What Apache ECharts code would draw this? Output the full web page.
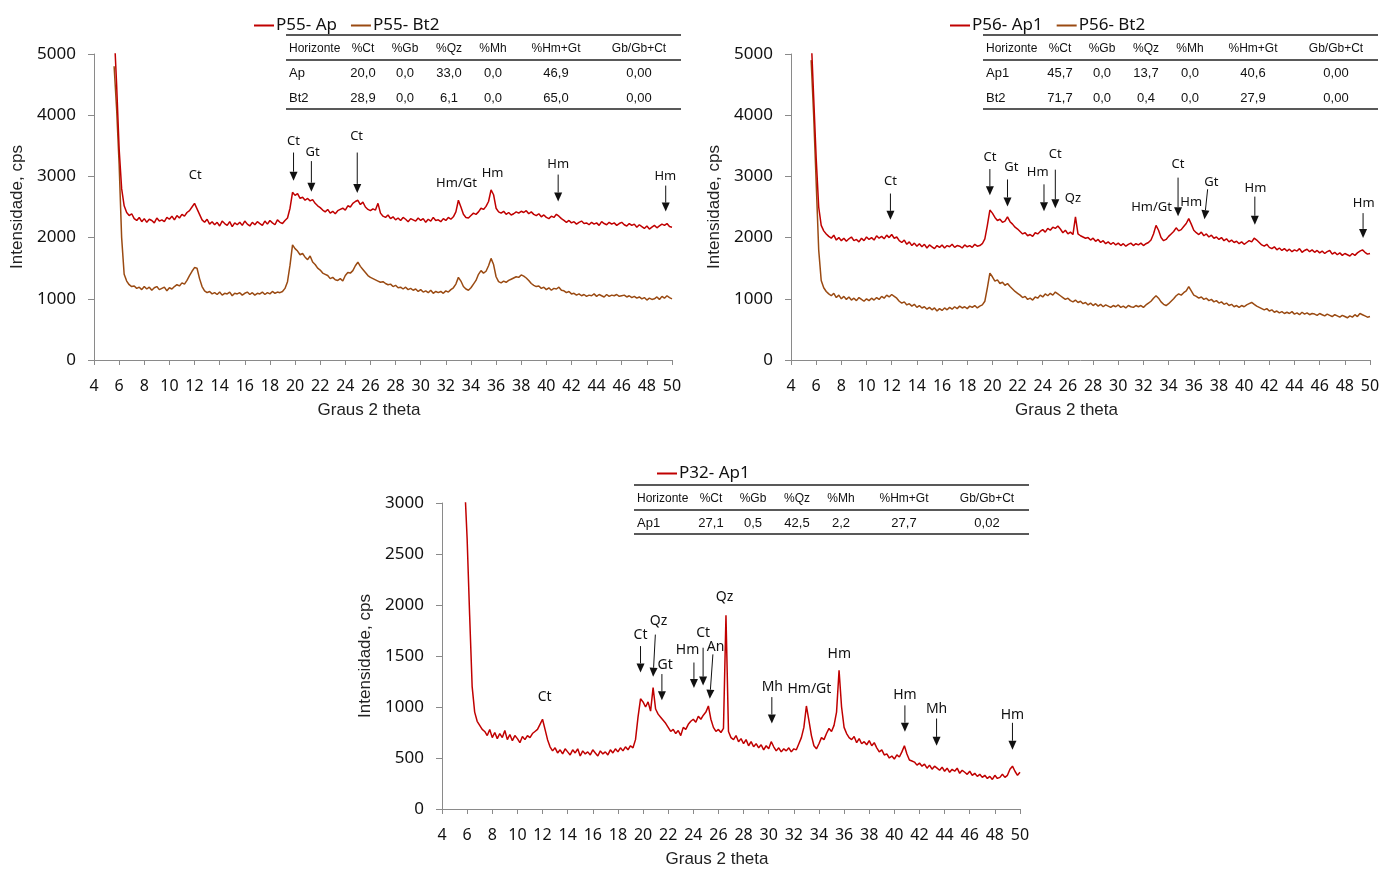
<!DOCTYPE html>
<html>
<head>
<meta charset="utf-8">
<script src="https://cdn.jsdelivr.net/npm/echarts@6/dist/echarts.min.js"></script>
<style>
  html, body { margin: 0; padding: 0; background: #fff; }
  #main { width: 1392px; height: 869px; }
</style>
</head>
<body>
<div id="main"></div>
<script>
// 2 theta grid: 5.6 .. 50.0, step 0.2
const theta = []
for (let i = 0; i <= 222; i++) theta.push(+(5.6 + i * 0.2).toFixed(1))

// P55 - Ap (red)
const p55Ap = [
  5400, 4500, 3450, 2800, 2520, 2410, 2360, 2390, 2310, 2280,  // 5.6
  2330, 2260, 2310, 2250, 2300, 2280, 2240, 2320, 2270, 2290,  // 7.6
  2260, 2330, 2300, 2350, 2290, 2360, 2320, 2380, 2350, 2410,  // 9.6
  2440, 2500, 2560, 2470, 2380, 2290, 2250, 2300, 2220, 2260,  // 11.6
  2210, 2250, 2190, 2270, 2230, 2200, 2260, 2180, 2240, 2210,  // 13.6
  2250, 2200, 2270, 2220, 2190, 2250, 2210, 2260, 2230, 2200,  // 15.6
  2270, 2220, 2280, 2240, 2210, 2290, 2250, 2230, 2280, 2320,  // 17.6
  2480, 2740, 2690, 2720, 2640, 2660, 2610, 2640, 2600, 2620,  // 19.6
  2560, 2520, 2490, 2450, 2420, 2460, 2400, 2430, 2390, 2440,  // 21.6
  2460, 2480, 2450, 2520, 2500, 2560, 2590, 2610, 2540, 2580,  // 23.6
  2500, 2460, 2440, 2470, 2450, 2560, 2400, 2350, 2330, 2370,  // 25.6
  2310, 2340, 2290, 2320, 2280, 2330, 2300, 2260, 2310, 2290,  // 27.6
  2270, 2320, 2280, 2310, 2250, 2300, 2270, 2330, 2280, 2290,  // 29.6
  2260, 2310, 2280, 2330, 2300, 2340, 2420, 2610, 2500, 2380,  // 31.6
  2330, 2320, 2360, 2400, 2380, 2420, 2480, 2460, 2510, 2590,  // 33.6
  2780, 2700, 2480, 2420, 2400, 2430, 2380, 2410, 2370, 2390,  // 35.6
  2420, 2400, 2430, 2410, 2440, 2390, 2420, 2380, 2360, 2390,  // 37.6
  2340, 2370, 2330, 2310, 2350, 2330, 2380, 2350, 2310, 2280,  // 39.6
  2250, 2280, 2240, 2260, 2220, 2250, 2270, 2230, 2240, 2210,  // 41.6
  2250, 2220, 2240, 2200, 2260, 2230, 2210, 2250, 2220, 2240,  // 43.6
  2200, 2230, 2250, 2210, 2190, 2230, 2200, 2220, 2170, 2210,  // 45.6
  2180, 2150, 2190, 2140, 2170, 2200, 2160, 2190, 2220, 2200,  // 47.6
  2230, 2180, 2170                                             // 49.6
]

// P55 - Bt2 (brown)
const p55Bt2 = [
  4800, 4100, 3200, 2000, 1400, 1290, 1230, 1200, 1210, 1170,
  1190, 1150, 1200, 1160, 1190, 1140, 1180, 1200, 1150, 1170,
  1190, 1130, 1180, 1160, 1200, 1230, 1210, 1260, 1240, 1300,
  1380, 1450, 1510, 1500, 1330, 1200, 1130, 1100, 1120, 1080,
  1100, 1070, 1110, 1060, 1090, 1080, 1110, 1050, 1090, 1080,
  1100, 1060, 1090, 1110, 1070, 1100, 1060, 1090, 1080, 1110,
  1070, 1100, 1080, 1120, 1090, 1110, 1100, 1120, 1170, 1280,
  1550, 1880, 1820, 1780, 1720, 1740, 1680, 1640, 1700, 1600,
  1560, 1500, 1470, 1420, 1400, 1380, 1330, 1350, 1310, 1300,
  1330, 1290, 1380, 1430, 1420, 1460, 1540, 1600, 1530, 1480,
  1430, 1380, 1350, 1330, 1310, 1290, 1270, 1280, 1250, 1230,
  1240, 1200, 1220, 1180, 1190, 1160, 1190, 1150, 1170, 1140,
  1160, 1120, 1150, 1110, 1130, 1100, 1140, 1090, 1120, 1100,
  1120, 1090, 1130, 1110, 1150, 1180, 1240, 1350, 1290, 1200,
  1160, 1140, 1180, 1240, 1300, 1400, 1460, 1420, 1450, 1540,
  1660, 1560, 1360, 1280, 1260, 1290, 1270, 1300, 1320, 1340,
  1360, 1350, 1390, 1370, 1340, 1300, 1250, 1220, 1200, 1210,
  1170, 1190, 1150, 1180, 1140, 1170, 1160, 1190, 1140, 1130,
  1100, 1120, 1080, 1090, 1060, 1080, 1050, 1070, 1040, 1060,
  1050, 1080, 1040, 1070, 1050, 1030, 1070, 1040, 1060, 1050,
  1070, 1040, 1050, 1060, 1030, 1050, 1020, 1040, 1010, 1030,
  1000, 1020, 980, 1010, 990, 1000, 1030, 990, 1040, 1010,
  1050, 1020, 1000
]

// P56 - Ap1 (red)
const p56Ap1 = [
  5300, 4300, 3300, 2500, 2200, 2110, 2060, 2020, 1990, 2040,
  1960, 2000, 1950, 1990, 1940, 1980, 2010, 1950, 1970, 1930,
  1990, 1950, 2010, 1970, 2000, 1960, 2030, 1990, 2020, 1980,
  2040, 2000, 2050, 1990, 2010, 1950, 1920, 1960, 1890, 1930,
  1870, 1910, 1860, 1900, 1850, 1890, 1830, 1880, 1850, 1820,
  1870, 1840, 1880, 1830, 1870, 1850, 1890, 1840, 1870, 1860,
  1830, 1880, 1850, 1870, 1840, 1890, 1860, 1870, 1900, 1980,
  2200, 2450, 2400, 2330, 2280, 2300, 2250, 2270, 2340, 2260,
  2220, 2170, 2140, 2100, 2060, 2080, 2030, 2050, 2020, 2080,
  2060, 2100, 2130, 2090, 2150, 2120, 2170, 2150, 2190, 2140,
  2080, 2120, 2060, 2090, 2050, 2340, 2060, 2030, 2010, 1990,
  2000, 1960, 1990, 1940, 1970, 1920, 1950, 1900, 1930, 1890,
  1920, 1880, 1910, 1870, 1900, 1860, 1890, 1910, 1870, 1900,
  1880, 1910, 1870, 1900, 1920, 1960, 2060, 2200, 2120, 2000,
  1950, 1970, 2020, 2060, 2100, 2160, 2110, 2130, 2180, 2230,
  2310, 2220, 2120, 2080, 2050, 2090, 2030, 2060, 2010, 2040,
  1990, 2010, 1970, 2000, 1950, 1980, 1930, 1960, 1920, 1940,
  1900, 1930, 1890, 1920, 1950, 1930, 1990, 1960, 1920, 1880,
  1860, 1890, 1840, 1820, 1850, 1800, 1830, 1790, 1820, 1780,
  1810, 1770, 1800, 1780, 1820, 1760, 1790, 1810, 1770, 1800,
  1760, 1790, 1750, 1780, 1740, 1770, 1790, 1730, 1760, 1720,
  1750, 1710, 1740, 1720, 1700, 1740, 1710, 1750, 1780, 1800,
  1760, 1730, 1740
]

// P56 - Bt2 (brown)
const p56Bt2 = [
  4900, 4000, 2900, 1800, 1300, 1180, 1120, 1080, 1050, 1090,
  1020, 1060, 1000, 1040, 990, 1030, 980, 1010, 970, 1020,
  990, 960, 1000, 970, 1010, 980, 1020, 990, 1040, 1010,
  1060, 1030, 1070, 1040, 1010, 960, 930, 950, 900, 920,
  880, 910, 860, 890, 850, 870, 830, 860, 820, 850,
  800, 840, 810, 850, 820, 860, 830, 870, 840, 880,
  850, 870, 840, 880, 860, 890, 850, 880, 900, 960,
  1180, 1420, 1360, 1290, 1310, 1250, 1270, 1220, 1250, 1200,
  1160, 1120, 1090, 1060, 1020, 1040, 990, 1010, 980, 1030,
  1010, 1060, 1030, 1080, 1050, 1090, 1060, 1110, 1080, 1050,
  1020, 990, 1010, 970, 950, 980, 940, 960, 920, 940,
  900, 930, 890, 920, 880, 910, 870, 900, 880, 860,
  890, 870, 900, 860, 880, 850, 890, 870, 860, 890,
  870, 890, 860, 900, 930, 960, 1010, 1050, 1010, 950,
  910, 890, 920, 960, 1000, 1050, 1080, 1060, 1100, 1130,
  1200, 1130, 1060, 1040, 1010, 1030, 990, 1010, 970, 990,
  950, 970, 930, 950, 910, 930, 890, 910, 870, 890,
  860, 890, 870, 900, 920, 940, 910, 880, 860, 840,
  820, 840, 800, 820, 780, 800, 770, 790, 760, 780,
  760, 790, 750, 770, 740, 780, 750, 770, 740, 760,
  750, 730, 760, 740, 720, 750, 730, 710, 740, 720,
  700, 730, 710, 690, 720, 700, 740, 710, 760, 740,
  720, 700, 710
]

// P32 - Ap1 (red)
const p32Ap1 = [
  3800, 3200, 2650, 1900, 1200, 950, 860, 820, 780, 760,
  720, 780, 700, 750, 690, 740, 700, 770, 680, 730,
  670, 720, 690, 650, 710, 680, 720, 700, 740, 760,
  780, 830, 880, 780, 680, 610, 570, 600, 550, 580,
  540, 590, 560, 530, 580, 550, 590, 520, 570, 540,
  560, 530, 580, 550, 520, 570, 540, 560, 530, 580,
  550, 590, 560, 600, 570, 610, 580, 620, 600, 680,
  900, 1080, 1050, 1000, 1050, 960, 1190, 980, 930, 900,
  870, 840, 800, 760, 780, 740, 770, 720, 800, 780,
  830, 860, 880, 850, 910, 880, 920, 950, 1010, 880,
  800, 760, 780, 750, 790, 1900, 760, 700, 680, 720,
  660, 690, 640, 680, 620, 660, 610, 640, 600, 630,
  580, 620, 590, 660, 610, 570, 600, 560, 590, 570,
  600, 560, 590, 580, 640, 700, 800, 1010, 870, 720,
  620, 590, 640, 700, 680, 740, 790, 760, 820, 950,
  1360, 1000, 800, 740, 700, 680, 710, 650, 690, 640,
  660, 630, 670, 620, 650, 600, 560, 580, 530, 540,
  500, 520, 490, 530, 510, 560, 620, 540, 480, 470,
  460, 430, 450, 420, 440, 400, 430, 390, 420, 400,
  380, 410, 370, 400, 360, 390, 370, 400, 350, 380,
  360, 340, 370, 330, 350, 320, 340, 310, 330, 300,
  320, 290, 330, 300, 310, 340, 310, 330, 390, 420,
  370, 330, 360
]

// peak labels: [text, labelX, labelY, arrowX0, arrowY0, arrowX1, arrowY1]
const p55Marks = [
  ['Ct', 12.06, 3010],
  ['Ct', 19.88, 3580, 19.88, 3390, 19.88, 2930],
  ['Gt', 21.4, 3390, 21.3, 3250, 21.3, 2750],
  ['Ct', 24.9, 3660, 24.95, 3390, 24.95, 2730],
  ['Hm/Gt', 32.85, 2890],
  ['Hm', 35.72, 3054],
  ['Hm', 40.94, 3190, 40.94, 3030, 40.94, 2590],
  ['Hm', 49.47, 3000, 49.5, 2850, 49.5, 2425]
]
const p56Marks = [
  ['Ct', 11.9, 2923, 11.9, 2720, 11.9, 2290],
  ['Ct', 19.8, 3310, 19.8, 3120, 19.8, 2690],
  ['Gt', 21.5, 3150, 21.2, 2950, 21.2, 2510],
  ['Hm', 23.6, 3060, 24.1, 2870, 24.1, 2430],
  ['Ct', 25.0, 3360, 25.0, 3110, 25.0, 2480],
  ['Qz', 26.4, 2650],
  ['Hm/Gt', 32.65, 2503],
  ['Ct', 34.75, 3200, 34.75, 2980, 34.75, 2350],
  ['Hm', 35.8, 2585],
  ['Gt', 37.4, 2907, 37.1, 2790, 36.85, 2300],
  ['Hm', 40.9, 2803, 40.85, 2670, 40.85, 2210],
  ['Hm', 49.5, 2568, 49.45, 2400, 49.45, 1995]
]
const p32Marks = [
  ['Ct', 12.17, 1097],
  ['Ct', 19.8, 1710, 19.8, 1597, 19.8, 1339],
  ['Qz', 21.23, 1845, 20.98, 1710, 20.8, 1297],
  ['Gt', 21.76, 1413, 21.5, 1323, 21.5, 1065],
  ['Hm', 23.54, 1555, 24.05, 1436, 24.05, 1187],
  ['Ct', 24.78, 1726, 24.78, 1581, 24.78, 1210],
  ['An', 25.78, 1587, 25.56, 1516, 25.31, 1081],
  ['Qz', 26.49, 2075],
  ['Mh', 30.29, 1200, 30.25, 1097, 30.25, 839],
  ['Hm/Gt', 33.24, 1177],
  ['Hm', 35.62, 1516],
  ['Hm', 40.84, 1113, 40.84, 1016, 40.84, 758],
  ['Mh', 43.36, 977, 43.36, 887, 43.36, 619],
  ['Hm', 49.4, 926, 49.4, 845, 49.4, 581]
]

// tables
const tableHeader = ['Horizonte', '%Ct', '%Gb', '%Qz', '%Mh', '%Hm+Gt', 'Gb/Gb+Ct']
const p55Table = [
  ['Ap', '20,0', '0,0', '33,0', '0,0', '46,9', '0,00'],
  ['Bt2', '28,9', '0,0', '6,1', '0,0', '65,0', '0,00']
]
const p56Table = [
  ['Ap1', '45,7', '0,0', '13,7', '0,0', '40,6', '0,00'],
  ['Bt2', '71,7', '0,0', '0,4', '0,0', '27,9', '0,00']
]
const p32Table = [
  ['Ap1', '27,1', '0,5', '42,5', '2,2', '27,7', '0,02']
]

const RED = '#C00000'
const BROWN = '#9A4A12'
const AXIS = '#8a8a8a'

const colX = [3, 77, 119, 163, 207, 270, 353]
const tableW = 395

function makeTable(left, top, rows) {
  const els = []
  const line = (y) => ({
    type: 'line', shape: { x1: left, y1: y, x2: left + tableW, y2: y },
    style: { stroke: '#222', lineWidth: 1.6 }
  })
  els.push(line(top))
  tableHeader.forEach((h, j) => {
    els.push({
      type: 'text', x: left + colX[j], y: top + 14,
      style: { text: h, fill: '#111', font: '12px "Liberation Sans"',
        align: j === 0 ? 'left' : 'center', verticalAlign: 'middle' }
    })
  })
  els.push(line(top + 25))
  rows.forEach((r, i) => {
    r.forEach((v, j) => {
      els.push({
        type: 'text', x: left + colX[j], y: top + 38 + 25 * i,
        style: { text: v, fill: '#111', font: '13px "Liberation Sans"',
          align: j === 0 ? 'left' : 'center', verticalAlign: 'middle' }
      })
    })
  })
  els.push(line(top + 38 + 25 * (rows.length - 1) + 11))
  return els
}

function drawMarks(list, fontSize) {
  return function (params, api) {
    const m = list[params.dataIndex]
    const children = []
    const p = api.coord([m[1], m[2]])
    children.push({
      type: 'text', x: p[0], y: p[1],
      style: { text: m[0], fill: '#111', font: fontSize + 'px "Noto Sans"',
        align: 'center', verticalAlign: 'middle' }
    })
    if (m.length > 3) {
      const a = api.coord([m[3], m[4]])
      const b = api.coord([m[5], m[6]])
      const ang = Math.atan2(b[1] - a[1], b[0] - a[0])
      const hl = 9, hw = 4
      const bx = b[0] - hl * Math.cos(ang)
      const by = b[1] - hl * Math.sin(ang)
      children.push({
        type: 'line', shape: { x1: a[0], y1: a[1], x2: bx, y2: by },
        style: { stroke: '#111', lineWidth: 1 }
      })
      children.push({
        type: 'polygon',
        shape: { points: [[b[0], b[1]],
          [bx - hw * Math.sin(ang), by + hw * Math.cos(ang)],
          [bx + hw * Math.sin(ang), by - hw * Math.cos(ang)]] },
        style: { fill: '#111' }
      })
    }
    return { type: 'group', children }
  }
}

function xAxisOf(gridIndex) {
  return {
    type: 'value', gridIndex, min: 4, max: 50, interval: 2,
    name: 'Graus 2 theta', nameLocation: 'middle', nameGap: 42,
    nameTextStyle: { color: '#222', fontSize: 17, fontFamily: 'Liberation Sans', padding: [0, 28, 0, 0] },
    axisLine: { show: true, onZero: false, lineStyle: { color: AXIS, width: 1 } },
    axisTick: { show: true, length: 5, lineStyle: { color: AXIS } },
    axisLabel: { color: '#111', fontSize: 16, fontFamily: 'Noto Sans', margin: 18 },
    splitLine: { show: false }
  }
}
function yAxisOf(gridIndex, max, interval) {
  return {
    type: 'value', gridIndex, min: 0, max, interval,
    name: 'Intensidade, cps', nameLocation: 'middle', nameGap: 68,
    nameTextStyle: { color: '#222', fontSize: 17, fontFamily: 'Liberation Sans' },
    axisLine: { show: true, lineStyle: { color: AXIS, width: 1 } },
    axisTick: { show: true, length: 6, lineStyle: { color: AXIS } },
    axisLabel: { color: '#111', fontSize: 17, fontFamily: 'Noto Sans', margin: 18,
      formatter: (v) => String(v) },
    splitLine: { show: false }
  }
}

function lineSeries(name, values, color, idx) {
  return {
    name, type: 'line', xAxisIndex: idx, yAxisIndex: idx,
    data: theta.map((t, i) => [t, values[i]]),
    showSymbol: false, symbol: 'none', clip: true,
    lineStyle: { color, width: 1.5 }, itemStyle: { color },
    emphasis: { disabled: true }
  }
}
function markSeries(list, idx, fontSize) {
  return {
    type: 'custom', xAxisIndex: idx, yAxisIndex: idx,
    data: list.map(m => [m[1], m[2]]),
    encode: { x: 0, y: 1 }, clip: false, silent: true,
    renderItem: drawMarks(list, fontSize)
  }
}

const legendBase = {
  icon: 'rect', itemWidth: 20, itemHeight: 2, itemGap: 14,
  textStyle: { color: '#111', fontSize: 17, fontFamily: 'Noto Sans', padding: [0, 0, 0, -3] }
}

const myChart = echarts.init(document.getElementById('main'))
myChart.setOption({
  animation: false,
  backgroundColor: '#fff',
  grid: [
    { left: 94, top: 54, width: 578, height: 306 },
    { left: 791, top: 54, width: 579, height: 306 },
    { left: 442, top: 503, width: 578, height: 307 }
  ],
  legend: [
    Object.assign({ data: ['P55- Ap', 'P55- Bt2'], left: 249, top: 12 }, legendBase),
    Object.assign({ data: ['P56- Ap1', 'P56- Bt2'], left: 945, top: 12 }, legendBase),
    Object.assign({ data: ['P32- Ap1'], left: 652, top: 460 }, legendBase)
  ],
  xAxis: [xAxisOf(0), xAxisOf(1), xAxisOf(2)],
  yAxis: [yAxisOf(0, 5000, 1000), yAxisOf(1, 5000, 1000), yAxisOf(2, 3000, 500)],
  series: [
    lineSeries('P55- Bt2', p55Bt2, BROWN, 0),
    lineSeries('P55- Ap', p55Ap, RED, 0),
    lineSeries('P56- Bt2', p56Bt2, BROWN, 1),
    lineSeries('P56- Ap1', p56Ap1, RED, 1),
    lineSeries('P32- Ap1', p32Ap1, RED, 2),
    markSeries(p55Marks, 0, 13),
    markSeries(p56Marks, 1, 13),
    markSeries(p32Marks, 2, 14)
  ],
  graphic: [].concat(
    makeTable(286, 35, p55Table),
    makeTable(983, 35, p56Table),
    makeTable(634, 485, p32Table)
  )
})
</script>
</body>
</html>
